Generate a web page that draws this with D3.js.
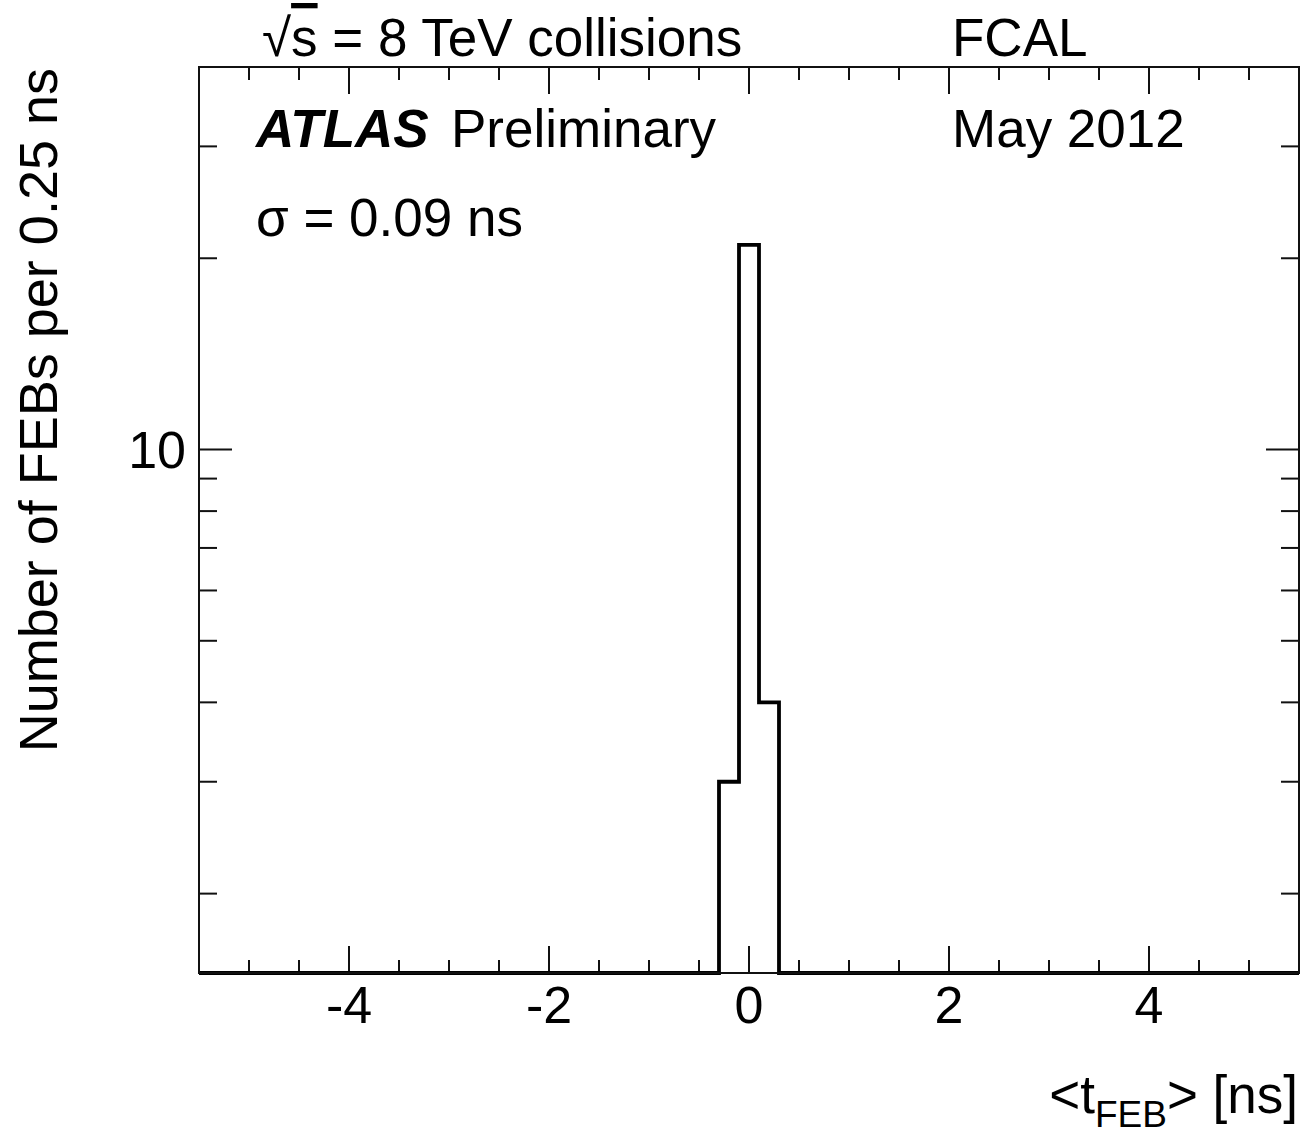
<!DOCTYPE html>
<html><head><meta charset="utf-8">
<script src="https://cdn.jsdelivr.net/npm/d3@7"></script>
<style>body{margin:0;background:#fff}svg text{font-family:"Liberation Sans",Arial,sans-serif;fill:#000}</style>
</head><body>
<svg id="c" width="1307" height="1138"></svg>
<script>
const binEdges = [-5.5, -0.3, -0.1, 0.1, 0.3, 5.5];
const counts = [0, 3, 21, 4, 0];
const xDomain = [-5.5, 5.5];
const yDomain = [1.5, 40];
const xMajorTicks = [-4, -2, 0, 2, 4];
const xMinorTicks = d3.range(-5, 5.01, 0.5);
const yMajorTicks = [10];
const yMinorTicks = [2, 3, 4, 5, 6, 7, 8, 9, 20, 30];

(function () {
const svg = d3.select("#c");
const L = 199, R = 1299, T = 67, B = 973;
const x = d3.scaleLinear().domain(xDomain).range([L, R]);
const y = d3.scaleLog().domain(yDomain).range([B, T]);
const col = "#111";

const g = svg.append("g").attr("stroke", col).attr("stroke-width", 2);
xMinorTicks.forEach(v => {
  const major = xMajorTicks.some(m => Math.abs(m - v) < 1e-9);
  const len = major ? 27 : 13;
  g.append("line").attr("x1", x(v)).attr("x2", x(v)).attr("y1", B).attr("y2", B - len);
  g.append("line").attr("x1", x(v)).attr("x2", x(v)).attr("y1", T).attr("y2", T + len);
});
yMinorTicks.concat(yMajorTicks).forEach(v => {
  const len = yMajorTicks.includes(v) ? 33 : 18;
  g.append("line").attr("y1", y(v)).attr("y2", y(v)).attr("x1", L).attr("x2", L + len);
  g.append("line").attr("y1", y(v)).attr("y2", y(v)).attr("x1", R).attr("x2", R - len);
});

const yc = v => y(Math.max(v, yDomain[0]));
let pts = [[x(binEdges[0]), yc(0)]];
counts.forEach((c, i) => {
  pts.push([x(binEdges[i]), yc(c)]);
  pts.push([x(binEdges[i + 1]), yc(c)]);
});
pts.push([x(binEdges[binEdges.length - 1]), yc(0)]);
svg.append("path").attr("d", d3.line()(pts)).attr("fill", "none")
  .attr("stroke", "#000").attr("stroke-width", 3.8).attr("stroke-linejoin", "miter");

svg.append("rect").attr("x", L).attr("y", T).attr("width", R - L).attr("height", B - T)
  .attr("fill", "none").attr("stroke", col).attr("stroke-width", 2);

xMajorTicks.forEach(v => {
  svg.append("text").attr("x", x(v)).attr("y", 1023).attr("text-anchor", "middle")
    .attr("font-size", 52).text(v < 0 ? "-" + Math.abs(v) : v);
});
yMajorTicks.forEach(v => {
  svg.append("text").attr("x", 186).attr("y", y(v) + 18).attr("text-anchor", "end")
    .attr("font-size", 52).text(v);
});

svg.append("text").attr("transform", "translate(57,68) rotate(-90)").attr("text-anchor", "end")
  .attr("font-size", 54).text("Number of FEBs per 0.25 ns");
const xt = svg.append("text").attr("x", 1298).attr("y", 1113).attr("text-anchor", "end").attr("font-size", 53);
xt.append("tspan").text("<t");
xt.append("tspan").attr("font-size", 37).attr("dy", 14).text("FEB");
xt.append("tspan").attr("dy", -14).text("> [ns]");

const t1 = svg.append("text").attr("x", 262).attr("y", 56).attr("font-size", 53);
t1.append("tspan").text("\u221A");
t1.append("tspan").style("text-decoration", "overline").text("s");
t1.append("tspan").text(" = 8 TeV collisions");
svg.append("text").attr("x", 952).attr("y", 56).attr("font-size", 53).text("FCAL");
svg.append("text").attr("x", 256).attr("y", 147).attr("font-size", 53)
  .attr("font-weight", "bold").attr("font-style", "italic").text("ATLAS");
svg.append("text").attr("x", 451).attr("y", 147).attr("font-size", 53).text("Preliminary");
svg.append("text").attr("x", 952).attr("y", 147).attr("font-size", 53).text("May 2012");
svg.append("text").attr("x", 256).attr("y", 236).attr("font-size", 53).text("\u03C3 = 0.09 ns");
})();
</script>
</body></html>
